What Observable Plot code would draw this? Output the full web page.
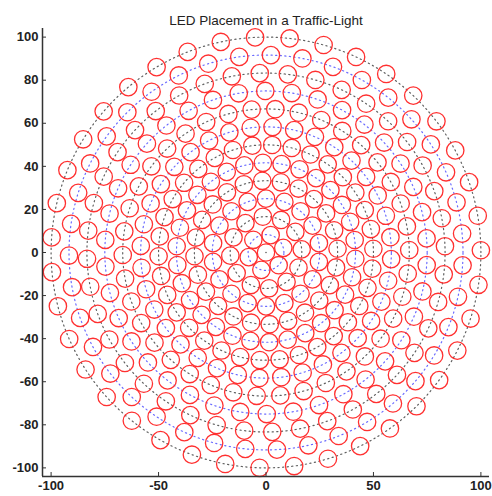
<!DOCTYPE html>
<html><head><meta charset="utf-8">
<script src="https://cdn.jsdelivr.net/npm/d3@7"></script>
<script src="https://cdn.jsdelivr.net/npm/@observablehq/plot@0.6"></script>
<style>body{margin:0;background:#fff} svg{display:block}</style>
</head><body><div id="chart"></div>
<script>
const title = "LED Placement in a Traffic-Light";
// concentric placement rings (radius), LEDs on each ring, angle of first LED (deg)
const ringRadii    = [0, 8.33, 16.67, 25, 33.33, 41.67, 50, 58.33, 66.67, 75, 83.33, 91.67, 100];
const ringCounts   = [1, 6, 12, 18, 24, 30, 34, 36, 38, 38, 40, 39, 39];
const ringPhaseDeg = [0, 15, 5, 10, 3, 8, 2, 7, 1, 5, 2, 5.5, 0.6];
const xTicks = [-100, -50, 0, 50, 100];
const yTicks = [-100, -80, -60, -40, -20, 0, 20, 40, 60, 80, 100];
const domain = [-104, 104];

const leds = [];
ringRadii.forEach((r, k) => {
  const n = ringCounts[k];
  for (let j = 0; j < n; j++) {
    const a = (ringPhaseDeg[k] + 360 * j / n) * Math.PI / 180;
    leds.push({x: r * Math.cos(a), y: r * Math.sin(a)});
  }
});
const blackRing = [], blueRing = [];
ringRadii.forEach((r, k) => {
  if (r === 0) return;
  const arr = k % 2 ? blueRing : blackRing;
  for (let i = 0; i <= 720; i++) {
    const a = i / 720 * 2 * Math.PI;
    arr.push({ring: k, x: r * Math.cos(a), y: r * Math.sin(a)});
  }
});
const tickLen = 4 / 2.154;

const chart = Plot.plot({
  width: 492, height: 496,
  marginLeft: 42, marginRight: 3, marginTop: 28, marginBottom: 20,
  x: {domain, axis: null},
  y: {domain, axis: null},
  style: {fontFamily: "'Liberation Sans', Arial, sans-serif", fontSize: "12px", color: "#222", background: "#fff"},
  marks: [
    Plot.line(blackRing, {x: "x", y: "y", z: "ring", stroke: "#606060", strokeWidth: 1.2, strokeDasharray: "1.2,3.4"}),
    Plot.line(blueRing, {x: "x", y: "y", z: "ring", stroke: "#6a6aff", strokeWidth: 1.2, strokeDasharray: "1.2,3.4"}),
    Plot.dot([{x: 0, y: 0}], {x: "x", y: "y", r: 0.8, fill: "#606060"}),
    Plot.dot(leds, {x: "x", y: "y", r: 8.7, stroke: "#ff3030", strokeWidth: 1.3, fill: "none"}),
    Plot.ruleX([domain[0]], {stroke: "#333", strokeWidth: 1.5}),
    Plot.ruleY([domain[0]], {stroke: "#333", strokeWidth: 1.5}),
    Plot.ruleX(xTicks, {x: d => d, y1: domain[0], y2: domain[0] + tickLen, stroke: "#333"}),
    Plot.ruleY(yTicks, {y: d => d, x1: domain[0], x2: domain[0] + tickLen, stroke: "#333"}),
    Plot.axisX({ticks: xTicks, tickSize: 0, tickPadding: 4, tickFormat: d => String(d), fontWeight: "bold", fontSize: 13, label: null}),
    Plot.axisY({ticks: yTicks, tickSize: 0, tickPadding: 4, tickFormat: d => String(d), fontWeight: "bold", fontSize: 13, label: null}),
    Plot.text([title], {text: d => d, frameAnchor: "top", dy: -13, fontSize: 13.5, fill: "#222"})
  ]
});
document.getElementById("chart").appendChild(chart);
</script>
</body></html>
